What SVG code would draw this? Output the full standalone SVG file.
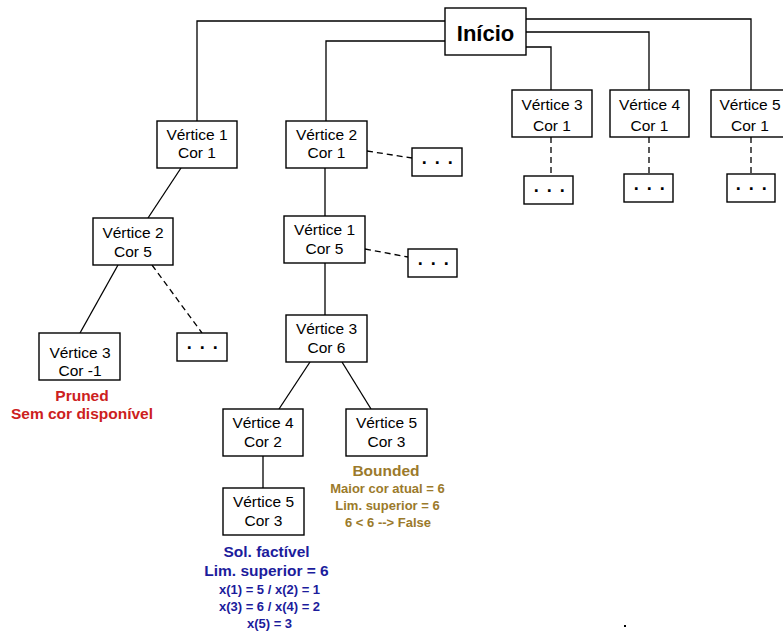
<svg xmlns="http://www.w3.org/2000/svg" width="783" height="632" viewBox="0 0 783 632">
<style>
.box{fill:#fff;stroke:#000;stroke-width:1.4}
.t{font-family:"Liberation Sans",Arial,sans-serif;font-size:15.5px;fill:#000;text-anchor:middle}
.dots{font-family:"Liberation Sans",Arial,sans-serif;font-size:18px;font-weight:bold;fill:#000;text-anchor:middle;letter-spacing:1.5px}
.ln{fill:none;stroke:#000;stroke-width:1.3}
.dl{fill:none;stroke:#000;stroke-width:1.3;stroke-dasharray:6,4}
.b{font-family:"Liberation Sans",Arial,sans-serif;font-weight:bold;text-anchor:middle}
.red{fill:#cc2020}
.gold{fill:#9b7a2b}
.blue{fill:#1c1c9c}
</style>
<rect width="783" height="632" fill="#fff"/>
<g id="connectors">
<polyline class="ln" points="445,21 197,21 197,121"/>
<polyline class="ln" points="445,41 326,41 326,121"/>
<polyline class="ln" points="526,19 751,19 751,90"/>
<polyline class="ln" points="526,32 649,32 649,90"/>
<polyline class="ln" points="526,47 551,47 551,90"/>
<line class="dl" x1="551" y1="137" x2="551" y2="176"/>
<line class="dl" x1="649" y1="137" x2="649" y2="174"/>
<line class="dl" x1="751" y1="137" x2="751" y2="174"/>
<line class="ln" x1="181" y1="168" x2="148" y2="218"/>
<line class="ln" x1="118" y1="265" x2="80" y2="333"/>
<line class="dl" x1="152" y1="265" x2="202" y2="333"/>
<line class="dl" x1="367" y1="151" x2="412" y2="158"/>
<line class="ln" x1="325" y1="168" x2="325" y2="216"/>
<line class="dl" x1="365" y1="249" x2="408" y2="257"/>
<line class="ln" x1="325" y1="263" x2="325" y2="315"/>
<line class="ln" x1="310" y1="362" x2="279" y2="409"/>
<line class="ln" x1="342" y1="362" x2="371" y2="409"/>
<line class="ln" x1="263" y1="456" x2="263" y2="488"/>
</g>
<g id="inicio">
<rect class="box" x="445" y="8" width="81" height="47"/>
<text class="b" x="485.5" y="41" font-size="22" fill="#000">Início</text>
</g>
<g id="v3c1">
<rect class="box" x="512" y="90" width="80" height="47"/>
<text class="t" x="552" y="110">Vértice 3</text><text class="t" x="552" y="131">Cor 1</text>
</g>
<g id="v4c1">
<rect class="box" x="610" y="90" width="79" height="47"/>
<text class="t" x="649.5" y="110">Vértice 4</text><text class="t" x="649.5" y="131">Cor 1</text>
</g>
<g id="v5c1">
<rect class="box" x="711" y="90" width="80" height="47"/>
<text class="t" x="750" y="110">Vértice 5</text><text class="t" x="750" y="131">Cor 1</text>
</g>
<g id="dots-v3"><rect class="box" x="524" y="176" width="49" height="28"/><text class="dots" x="550" y="192">. . .</text></g>
<g id="dots-v4"><rect class="box" x="624" y="174" width="49" height="28"/><text class="dots" x="650" y="190">. . .</text></g>
<g id="dots-v5"><rect class="box" x="727" y="174" width="48" height="28"/><text class="dots" x="752" y="190">. . .</text></g>
<g id="v1c1">
<rect class="box" x="157" y="121" width="80" height="47"/>
<text class="t" x="197" y="140">Vértice 1</text><text class="t" x="197" y="158">Cor 1</text>
</g>
<g id="v2c5">
<rect class="box" x="93" y="218" width="80" height="47"/>
<text class="t" x="133" y="238">Vértice 2</text><text class="t" x="133" y="257">Cor 5</text>
</g>
<g id="v3cm1">
<rect class="box" x="39" y="333" width="81" height="47"/>
<text class="t" x="80" y="358">Vértice 3</text><text class="t" x="80" y="376">Cor -1</text>
<text class="b red" x="82" y="401" font-size="15.5">Pruned</text>
<text class="b red" x="82" y="419" font-size="15.5">Sem cor disponível</text>
</g>
<g id="dots-v2c5"><rect class="box" x="177" y="333" width="50" height="28"/><text class="dots" x="203" y="349">. . .</text></g>
<g id="v2c1">
<rect class="box" x="286" y="121" width="81" height="47"/>
<text class="t" x="326.5" y="140">Vértice 2</text><text class="t" x="326.5" y="158">Cor 1</text>
</g>
<g id="dots-v2c1"><rect class="box" x="412" y="148" width="50" height="28"/><text class="dots" x="438" y="164">. . .</text></g>
<g id="v1c5">
<rect class="box" x="284" y="216" width="81" height="47"/>
<text class="t" x="324.5" y="235">Vértice 1</text><text class="t" x="324.5" y="254">Cor 5</text>
</g>
<g id="dots-v1c5"><rect class="box" x="408" y="249" width="49" height="28"/><text class="dots" x="434" y="265">. . .</text></g>
<g id="v3c6">
<rect class="box" x="286" y="315" width="81" height="47"/>
<text class="t" x="326.5" y="334">Vértice 3</text><text class="t" x="326.5" y="353">Cor 6</text>
</g>
<g id="v4c2">
<rect class="box" x="223" y="409" width="80" height="47"/>
<text class="t" x="263" y="428">Vértice 4</text><text class="t" x="263" y="447">Cor 2</text>
</g>
<g id="v5c3b">
<rect class="box" x="346" y="409" width="81" height="47"/>
<text class="t" x="386.5" y="428">Vértice 5</text><text class="t" x="386.5" y="447">Cor 3</text>
<text class="b gold" x="386" y="476" font-size="15.5">Bounded</text>
<text class="b gold" x="387.5" y="493" font-size="13">Maior cor atual = 6</text>
<text class="b gold" x="387.5" y="510" font-size="13">Lim. superior = 6</text>
<text class="b gold" x="388" y="527" font-size="13">6 &lt; 6 --&gt; False</text>
</g>
<g id="v5c3">
<rect class="box" x="223" y="488" width="81" height="47"/>
<text class="t" x="263.5" y="507">Vértice 5</text><text class="t" x="263.5" y="526">Cor 3</text>
<text class="b blue" x="266.5" y="557" font-size="15.5">Sol. factível</text>
<text class="b blue" x="266.5" y="576" font-size="15.5">Lim. superior = 6</text>
<text class="b blue" x="269.5" y="594" font-size="13">x(1) = 5 / x(2) = 1</text>
<text class="b blue" x="269.5" y="611" font-size="13">x(3) = 6 / x(4) = 2</text>
<text class="b blue" x="269.5" y="628" font-size="13">x(5) = 3</text>
</g>
<rect x="624" y="625" width="2" height="2" fill="#000"/>
</svg>
